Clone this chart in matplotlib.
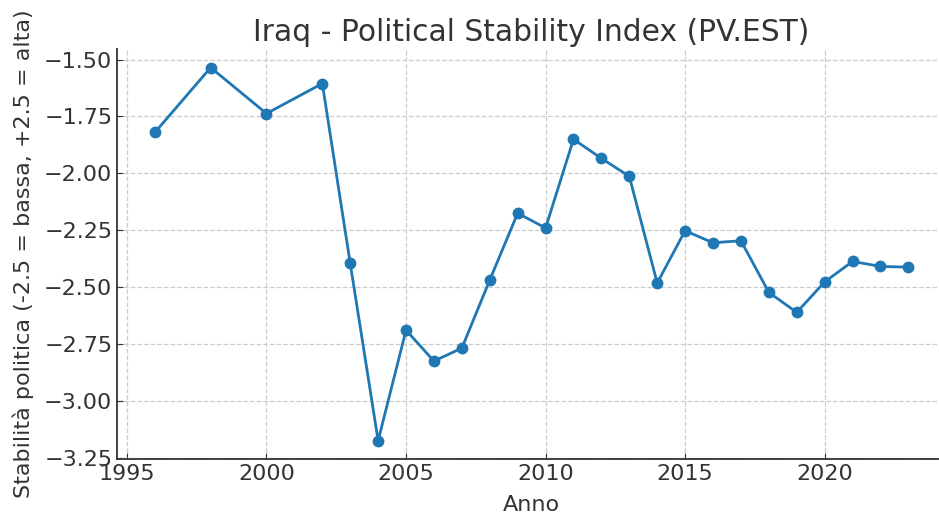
import matplotlib.pyplot as plt

years = [1996, 1998, 2000, 2002, 2003, 2004, 2005, 2006, 2007, 2008,
         2009, 2010, 2011, 2012, 2013, 2014, 2015, 2016, 2017, 2018,
         2019, 2020, 2021, 2022, 2023]
pv_est = [-1.82, -1.535, -1.737, -1.605, -2.395, -3.175, -2.689, -2.825,
          -2.768, -2.469, -2.175, -2.24, -1.85, -1.934, -2.013, -2.482,
          -2.252, -2.305, -2.296, -2.523, -2.611, -2.477, -2.387, -2.409,
          -2.412]

text_color = "#333333"


def main():
    plt.rcParams["font.family"] = "DejaVu Sans"
    fig, ax = plt.subplots(figsize=(9.39, 5.15), dpi=100)

    ax.plot(years, pv_est, marker="o", color="#1f77b4", linewidth=2, markersize=7.5)

    ax.set_title("Iraq - Political Stability Index (PV.EST)", fontsize=21.4, color=text_color)
    ax.set_xlabel("Anno", fontsize=16, color=text_color, labelpad=8)
    ax.set_ylabel("Stabilità politica (-2.5 = bassa, +2.5 = alta)", fontsize=16,
                  color=text_color, labelpad=7.5)
    ax.tick_params(labelsize=16, colors=text_color, direction="in", length=4)
    ax.grid(True, linestyle="--", color="#cccccc", linewidth=0.9)
    ax.spines["top"].set_visible(False)
    ax.spines["right"].set_visible(False)
    for s in ("left", "bottom"):
        ax.spines[s].set_color(text_color)
        ax.spines[s].set_linewidth(1.3)

    fig.subplots_adjust(left=0.1248, right=1.0075, top=0.905, bottom=0.108)
    fig.savefig("out.png")


if __name__ == "__main__":
    main()
